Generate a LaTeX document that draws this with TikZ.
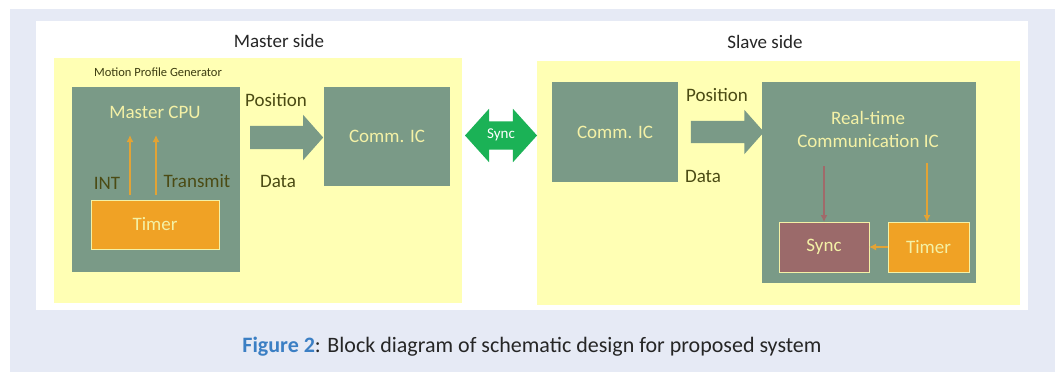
\documentclass[tikz,border=0pt]{standalone}
\usepackage{fontspec}
\setmainfont{Carlito}
\usetikzlibrary{shapes.arrows,arrows.meta,calc}
\definecolor{pagebg}{HTML}{E6EAF5}
\definecolor{panelyel}{HTML}{FFFFB4}
\definecolor{boxgreen}{HTML}{7A9A87}
\definecolor{timerorg}{HTML}{F0A225}
\definecolor{syncmauve}{HTML}{9B6A6A}
\definecolor{boxtext}{HTML}{F4F1A6}
\definecolor{olivetext}{HTML}{4B4B14}
\definecolor{syncgreen}{HTML}{1BB256}
\definecolor{wireorg}{HTML}{E2A335}
\definecolor{wirebrown}{HTML}{A06A6A}
\definecolor{figblue}{HTML}{3B7FC4}
\newcommand{\px}[1]{\fontsize{#1}{#1}\selectfont}
\begin{document}
\begin{tikzpicture}[x=1pt,y=-1pt,
    every node/.style={inner sep=0pt,outer sep=0pt},
    panel/.style={fill=panelyel,minimum width=#1},
    block/.style={fill=boxgreen,font=\px{19},text=boxtext},
    timerbox/.style={fill=timerorg,draw=boxtext,line width=1pt,font=\px{19},text=boxtext},
    syncbox/.style={fill=syncmauve,draw=boxtext,line width=1pt,font=\px{19},text=boxtext},
    lbl/.style={font=\px{19},text=olivetext},
    title/.style={font=\px{19},text=black!85},
    wire/.style={line width=1.5pt,-{Latex[length=7pt,width=7pt]}},
    bigarrow/.style={single arrow,fill=boxgreen,minimum height=73pt,inner sep=11.5pt,
      single arrow head extend=11pt,single arrow tip angle=97}]
  \useasboundingbox (0,0) rectangle (1055,372);
  \fill[pagebg] (10,9) rectangle (1055,372);
  \fill[white] (36,21) rectangle (1028,310);
  \node[panel=408pt,minimum height=245pt] (mpanel) at (258,180.5) {};
  \node[panel=483pt,minimum height=244pt] (spanel) at (778.5,183) {};
  \node[title] (mtitle) at (279,41) {Master side};
  \node[title] (stitle) at (765,42) {Slave side};
  \node[font=\px{12.5},text=olivetext!80!black] (mpg) at (158,72) {Motion Profile Generator};
  % master side
  \node[block,minimum width=168pt,minimum height=185pt] (mcpu) at (156,179.5) {};
  \node[block] (mcputxt) at (155,112) {Master CPU};
  \node[timerbox,minimum width=128pt,minimum height=49pt] (mtimer) at (155,224.5) {Timer};
  \draw[wire,wireorg] ($(mtimer.north)+(-25,-5)$) coordinate (intsrc) -- ++(0,-60) coordinate (intdst);
  \draw[wire,wireorg] ($(mtimer.north)+(1,-5)$) coordinate (txsrc) -- ++(0,-60) coordinate (txdst);
  \node[lbl] (intlbl) at (107,183) {INT};
  \node[lbl] (txlbl) at (197,181) {Transmit};
  \node[block,minimum width=126pt,minimum height=99pt] (mcomm) at (387,136.5) {Comm. IC};
  \node[bigarrow] (mpos) at (281.5,137.5) {};
  \node[lbl] (mposlbl) at (276,100) {Position};
  \node[lbl] (mdatalbl) at (278,181) {Data};
  % link
  \node[double arrow,fill=syncgreen,text=white,font=\px{15},minimum height=72pt,
    text height=10pt,text depth=4pt,inner ysep=7pt,inner xsep=2pt,
    double arrow head extend=12.5pt,double arrow tip angle=96] (link) at (501,135.5) {Sync};
  % slave side
  \node[block,minimum width=126pt,minimum height=100pt] (scomm) at (615,132) {Comm. IC};
  \node[bigarrow,inner sep=11pt] (spos) at (722.5,132) {};
  \node[lbl] (sposlbl) at (717,95) {Position};
  \node[lbl] (sdatalbl) at (703,176) {Data};
  \node[block,minimum width=214pt,minimum height=201pt] (rtc) at (869,182.5) {};
  \node[block,align=center] (rtctxt) at (868,129.5) {Real-time\\[4pt]Communication IC};
  \node[syncbox,minimum width=90pt,minimum height=50pt] (ssync) at (824,247) {Sync};
  \node[timerbox,minimum width=81pt,minimum height=50pt] (stimer) at (928.5,247) {Timer};
  \coordinate (syncsrc) at (824,166);
  \coordinate (timersrc) at (927,163);
  \draw[wire,wirebrown] (syncsrc) -- (ssync.north);
  \draw[wire,wireorg] (timersrc) -- (timersrc |- stimer.north);
  \draw[wire,wireorg] (stimer.west) -- (ssync.east);
  % caption
  \node[font=\px{22},text=black!85] (caption) at (532,347)
    {\textcolor{figblue}{\bfseries Figure 2}: Block diagram of schematic design for proposed system};
\end{tikzpicture}
\end{document}
